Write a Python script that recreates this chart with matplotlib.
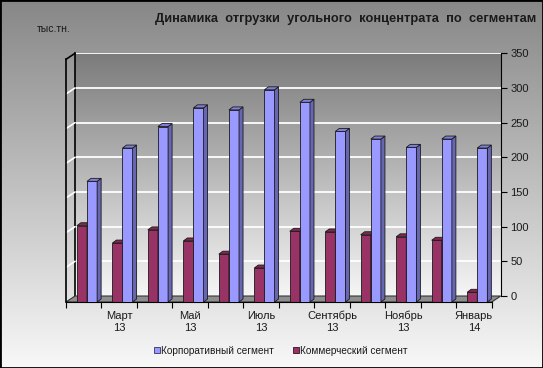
import numpy as np
import matplotlib
matplotlib.use("Agg")
import matplotlib.pyplot as plt
from matplotlib.patches import Polygon, Rectangle, ConnectionPatch
from matplotlib.colors import LinearSegmentedColormap
from matplotlib.transforms import IdentityTransform

plt.rcParams['font.family'] = ['Liberation Sans', 'DejaVu Sans']

# --- data ---
months = ["Февраль\n13", "Март\n13", "Апрель\n13", "Май\n13", "Июнь\n13", "Июль\n13",
          "Август\n13", "Сентябрь\n13", "Октябрь\n13", "Ноябрь\n13", "Декабрь\n13", "Январь\n14"]
corporate = [174, 222, 253, 280, 277, 306, 288, 246, 235, 223, 235, 222]
commercial = [110, 85, 104, 88, 69, 49, 102, 101, 97, 94, 89, 14]
series_names = ["Корпоративный сегмент", "Коммерческий сегмент"]
title = "Динамика  отгрузки  угольного  концентрата  по  сегментам"
unit = "тыс.тн."
yticks = [0, 50, 100, 150, 200, 250, 300, 350]

# --- colours ---
BLUE, BLUE_SIDE, BLUE_TOP = "#9999ff", "#6666b3", "#8080d9"
RED, RED_SIDE, RED_TOP = "#993366", "#6b2347", "#80294f"
EDGE = "#1a1a1a"

W, H = 543, 368


def rect(x0, y0, x1, y1):
    # pixel box (image coords) -> figure fraction
    return [x0 / W, 1 - y1 / H, (x1 - x0) / W, (y1 - y0) / H]


fig = plt.figure(figsize=(W / 100, H / 100), dpi=100)

# background gradient of the whole chart area
bg = fig.add_axes([0, 0, 1, 1], zorder=-3)
grad = np.linspace(0, 1, 256).reshape(-1, 1)
bg.imshow(grad, cmap=LinearSegmentedColormap.from_list("bg", ["#878787", "#f8f8f8"]),
          aspect="auto", extent=(0, 1, 0, 1))
bg.axis("off")

n = len(months)
xlim = (-0.5, n - 0.5)
ylim = (0, 350)

# back wall
back = fig.add_axes(rect(75, 53.3, 500.7, 296), zorder=-2)
back.imshow(grad, cmap=LinearSegmentedColormap.from_list("wall", ["#7b7b7b", "#f6f6f6"]),
            aspect="auto", extent=(*xlim, *ylim), zorder=0)
back.set_xlim(*xlim)
back.set_ylim(*ylim)
back.set_yticks(yticks)
back.yaxis.tick_right()
back.tick_params(axis="y", direction="out", length=4, width=0.8, pad=3,
                 labelsize=8, labelcolor="#1a1a1a")
back.set_xticks([])
back.grid(axis="y", color="white", lw=1.3)
for s in ["top", "bottom"]:
    back.spines[s].set_visible(False)
back.spines["left"].set_color("black")
back.spines["right"].set_color("black")
back.spines["left"].set_linewidth(1.2)

# front plane, holds the bars
ax = fig.add_axes(rect(66, 59.3, 491.7, 302), zorder=1)
ax.patch.set_alpha(0)
ax.set_xlim(*xlim)
ax.set_ylim(*ylim)
for s in ["top", "right"]:
    ax.spines[s].set_visible(False)
ax.spines["left"].set_linewidth(1.2)
ax.set_yticks([])
ax.set_xticks(np.arange(-0.5, n, 1))
ax.set_xticklabels([])
ax.set_xticks(np.arange(n), minor=True)
ax.set_xticklabels([m if i % 2 == 1 else "" for i, m in enumerate(months)], minor=True)
ax.tick_params(axis="x", which="major", direction="out", length=4, width=0.8)
ax.tick_params(axis="x", which="minor", length=0, pad=6.5, labelsize=8, labelcolor="#1a1a1a")

# floor and left wall edges (use the two planes' transforms)
fig.canvas.draw()
f0 = ax.transData.transform((xlim[0], 0))
f1 = ax.transData.transform((xlim[1], 0))
b1 = back.transData.transform((xlim[1], 0))
b0 = back.transData.transform((xlim[0], 0))
fig.add_artist(Polygon([f0, f1, b1, b0], closed=True, transform=IdentityTransform(),
                       facecolor="#8e8e8e", edgecolor="#333333", lw=0.8, zorder=0))
for v in yticks[1:]:
    col = "black" if v == yticks[-1] else "white"
    fig.add_artist(ConnectionPatch(xyA=(xlim[0], v), coordsA=ax.transData,
                                   xyB=(xlim[0], v), coordsB=back.transData,
                                   color=col, lw=1.2, zorder=0.5))

# bars with fake depth
width = 0.285
ddx = 4 / (ax.bbox.width / n)
ddy = 3 / (ax.bbox.height / (ylim[1] - ylim[0]))


def bars3d(xs, vals, face, side, top, z):
    ax.bar(xs, vals, width=width, color=face, edgecolor=EDGE, lw=0.6, zorder=z)
    for x, v in zip(xs, vals):
        r = x + width / 2
        l = x - width / 2
        ax.add_patch(Polygon([(r, 0), (r + ddx, ddy), (r + ddx, v + ddy), (r, v)],
                             facecolor=side, edgecolor=EDGE, lw=0.6, zorder=z + 0.1,
                             clip_on=False))
        ax.add_patch(Polygon([(l, v), (r, v), (r + ddx, v + ddy), (l + ddx, v + ddy)],
                             facecolor=top, edgecolor=EDGE, lw=0.6, zorder=z + 0.1,
                             clip_on=False))


x = np.arange(n)
bars3d(x - 0.05, commercial, RED, RED_SIDE, RED_TOP, 2)
bars3d(x + 0.235, corporate, BLUE, BLUE_SIDE, BLUE_TOP, 3)

# texts
fig.text(536 / W, 1 - 19 / H, title, ha="right", va="center", fontsize=9.25,
         fontweight="bold", color="#1a1a1a")
fig.text(37 / W, 1 - 29 / H, unit, ha="left", va="center", fontsize=7.5, color="#1a1a1a")

handles = [Rectangle((0, 0), 1, 1, facecolor=BLUE, edgecolor="#333366", lw=0.6),
           Rectangle((0, 0), 1, 1, facecolor=RED, edgecolor="#331122", lw=0.6)]
fig.legend(handles, series_names, loc="center", bbox_to_anchor=(281 / W, 1 - 351 / H),
           ncol=2, frameon=False, fontsize=7.2, handlelength=0.55, handleheight=0.55,
           handletextpad=0.15, columnspacing=1.9, labelcolor="#1a1a1a")

fig.add_artist(Rectangle((0, 0), 1, 1, transform=fig.transFigure, fill=False,
                         edgecolor="black", lw=2, zorder=10))

fig.savefig("out.png", dpi=100)
